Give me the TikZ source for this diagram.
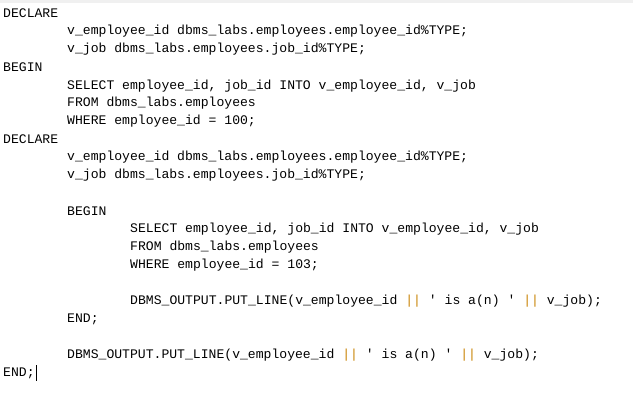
\documentclass[tikz,border=0pt]{standalone}
\usepackage{fontspec}
\newfontfamily\codefont{Liberation Mono}
\definecolor{op}{RGB}{200,130,0}
\begin{document}
\begin{tikzpicture}[x=1pt,y=-1pt,
  code/.style={anchor=west,inner sep=0pt,font=\codefont\fontsize{13.1}{15}\selectfont,text=black}]
\useasboundingbox[fill=white] (0,0) rectangle (633,407);
\fill[gray!12] (0,0) rectangle (633,3);
\newcommand\OR{\textcolor{op}{||}}
\node[code] (l1) at (3,13) {DECLARE};
\node[code] (l2) at (67,31) {v\_employee\_id dbms\_labs.employees.employee\_id\%TYPE;};
\node[code] (l3) at (67,49) {v\_job dbms\_labs.employees.job\_id\%TYPE;};
\node[code] (l4) at (3,67) {BEGIN};
\node[code] (l5) at (67,86) {SELECT employee\_id, job\_id INTO v\_employee\_id, v\_job};
\node[code] (l6) at (67,103) {FROM dbms\_labs.employees};
\node[code] (l7) at (67,121) {WHERE employee\_id = 100;};
\node[code] (l8) at (3,139) {DECLARE};
\node[code] (l9) at (67,157) {v\_employee\_id dbms\_labs.employees.employee\_id\%TYPE;};
\node[code] (l10) at (67,175) {v\_job dbms\_labs.employees.job\_id\%TYPE;};
\node[code] (l11) at (67,211) {BEGIN};
\node[code] (l12) at (130,229) {SELECT employee\_id, job\_id INTO v\_employee\_id, v\_job};
\node[code] (l13) at (130,247) {FROM dbms\_labs.employees};
\node[code] (l14) at (130,265) {WHERE employee\_id = 103;};
\node[code] (l15) at (130,301) {DBMS\_OUTPUT.PUT\_LINE(v\_employee\_id \OR{} ' is a(n) ' \OR{} v\_job);};
\node[code] (l16) at (67,319) {END;};
\node[code] (l17) at (67,355) {DBMS\_OUTPUT.PUT\_LINE(v\_employee\_id \OR{} ' is a(n) ' \OR{} v\_job);};
\node[code] (l18) at (3,373) {END;};
\draw[black,line width=0.8pt] ([xshift=1.5pt]l18.east) ++(0,-8) -- ++(0,16);
\end{tikzpicture}
\end{document}
